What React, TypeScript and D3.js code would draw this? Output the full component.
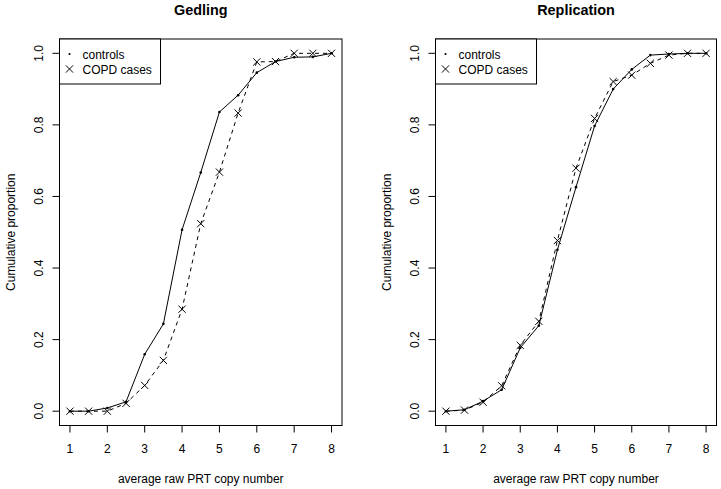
import React from "react";
import * as d3 from "d3";

const xs = [1, 1.5, 2, 2.5, 3, 3.5, 4, 4.5, 5, 5.5, 6, 6.5, 7, 7.5, 8];
const gedlingControls = [0, 0, 0.009, 0.026, 0.159, 0.244, 0.507, 0.667, 0.836, 0.883, 0.946, 0.977, 0.989, 0.99, 1.0];
const gedlingCases = [0, 0, 0.0, 0.022, 0.072, 0.142, 0.285, 0.524, 0.668, 0.833, 0.976, 0.977, 1.0, 1.0, 1.0];
const replControls = [0, 0.004, 0.028, 0.06, 0.177, 0.239, 0.451, 0.626, 0.797, 0.9, 0.955, 0.995, 0.998, 1.0, 1.0];
const replCases = [0, 0.003, 0.025, 0.071, 0.184, 0.251, 0.477, 0.679, 0.818, 0.921, 0.939, 0.972, 0.995, 1.0, 1.0];
const xTicks = [1, 2, 3, 4, 5, 6, 7, 8];
const yTicks = [0, 0.2, 0.4, 0.6, 0.8, 1.0];
const legendLabels = ["controls", "COPD cases"];

const FONT = "'Liberation Sans', Arial, Helvetica, sans-serif";

interface PanelProps {
  title: string;
  controls: number[];
  cases: number[];
  left: number;
  right: number;
}

function Panel({ title, controls, cases, left, right }: PanelProps) {
  const top = 39;
  const bottom = 425.5;
  const x = d3.scaleLinear().domain([0.72, 8.28]).range([left, right]);
  const y = d3.scaleLinear().domain([-0.04, 1.04]).range([bottom, top]);
  const line = d3
    .line<number>()
    .x((_, i) => x(xs[i]))
    .y((d) => y(d));
  const cx = (left + right) / 2;
  const yAxisX = left;
  return (
    <g>
      <text x={cx} y={15} textAnchor="middle" fontFamily={FONT} fontWeight="bold" fontSize={14.4} fill="#000">
        {title}
      </text>
      <rect x={left} y={top} width={right - left} height={bottom - top} fill="none" stroke="#000" strokeWidth={1} />
      {/* x axis */}
      <line x1={x(1)} x2={x(8)} y1={bottom} y2={bottom} stroke="#000" />
      {xTicks.map((t) => (
        <g key={"xt" + t}>
          <line x1={x(t)} x2={x(t)} y1={bottom} y2={bottom + 7} stroke="#000" />
          <text x={x(t)} y={453} textAnchor="middle" fontFamily={FONT} fontSize={12} fill="#000">
            {t}
          </text>
        </g>
      ))}
      <text x={cx} y={483} textAnchor="middle" fontFamily={FONT} fontSize={12} fill="#000">
        average raw PRT copy number
      </text>
      {/* y axis */}
      {yTicks.map((t) => (
        <g key={"yt" + t}>
          <line x1={yAxisX - 7} x2={yAxisX} y1={y(t)} y2={y(t)} stroke="#000" />
          <text
            transform={`translate(${yAxisX - 17},${y(t)}) rotate(-90)`}
            textAnchor="middle"
            fontFamily={FONT}
            fontSize={12}
            fill="#000"
          >
            {t.toFixed(1)}
          </text>
        </g>
      ))}
      <text
        transform={`translate(${left - 45},${(top + bottom) / 2}) rotate(-90)`}
        textAnchor="middle"
        fontFamily={FONT}
        fontSize={12}
        fill="#000"
      >
        Cumulative proportion
      </text>
      {/* series */}
      <path d={line(controls) || ""} fill="none" stroke="#000" strokeWidth={1} />
      <path d={line(cases) || ""} fill="none" stroke="#000" strokeWidth={1} strokeDasharray="4,4" />
      {controls.map((v, i) => (
        <circle key={"c" + i} cx={x(xs[i])} cy={y(v)} r={1.3} fill="#000" />
      ))}
      {cases.map((v, i) => {
        const px = x(xs[i]);
        const py = y(v);
        const s = 3.6;
        return (
          <path
            key={"k" + i}
            d={`M${px - s},${py - s}L${px + s},${py + s}M${px - s},${py + s}L${px + s},${py - s}`}
            stroke="#000"
            strokeWidth={1}
            fill="none"
          />
        );
      })}
      {/* legend */}
      <rect x={left} y={top} width={101} height={45} fill="#fff" stroke="#000" strokeWidth={1} />
      <circle cx={left + 10} cy={54} r={1.1} fill="#000" />
      <text x={left + 23} y={58.5} fontFamily={FONT} fontSize={12} fill="#000">
        {legendLabels[0]}
      </text>
      <path
        d={`M${left + 6.4},${69 - 3.6}L${left + 13.6},${69 + 3.6}M${left + 6.4},${69 + 3.6}L${left + 13.6},${69 - 3.6}`}
        stroke="#000"
        fill="none"
      />
      <text x={left + 23} y={73.5} fontFamily={FONT} fontSize={12} fill="#000">
        {legendLabels[1]}
      </text>
    </g>
  );
}

export default function App() {
  return (
    <svg width={721} height={489} style={{ position: "absolute", left: 0, top: 0, background: "#fff" }}>
      <rect x={0} y={0} width={721} height={489} fill="#fff" />
      <Panel title="Gedling" controls={gedlingControls} cases={gedlingCases} left={59.5} right={342} />
      <Panel title="Replication" controls={replControls} cases={replCases} left={435.5} right={716.5} />
    </svg>
  );
}
